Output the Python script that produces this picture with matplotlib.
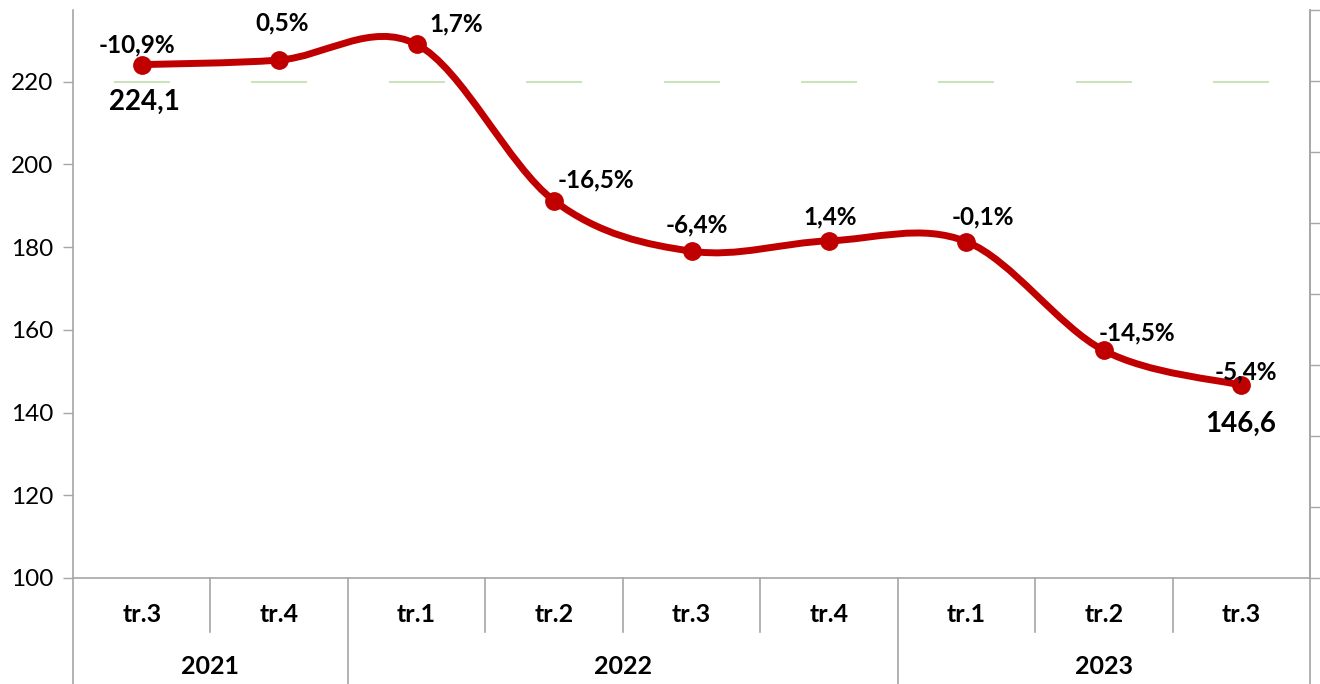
import numpy as np
import matplotlib.pyplot as plt
from matplotlib.path import Path
from matplotlib.patches import PathPatch
import matplotlib.transforms as mtransforms

plt.rcParams["font.family"] = ["Lato", "DejaVu Sans"]

quarters = ["tr.3", "tr.4", "tr.1", "tr.2", "tr.3", "tr.4", "tr.1", "tr.2", "tr.3"]
years = ["2021", "2022", "2023"]
year_counts = [2, 4, 3]
values = [224.1, 225.2, 229.0, 191.2, 179.0, 181.5, 181.3, 155.0, 146.6]
changes = ["-10,9%", "0,5%", "1,7%", "-16,5%", "-6,4%", "1,4%", "-0,1%", "-14,5%", "-5,4%"]
ref_level = [220, 220, 220, 220, 220, 220, 220, 220, 220]
first_label = "224,1"
last_label = "146,6"

# label offsets in pixels (dx, dy) relative to each point
offsets = [(-5, 20), (3, 37), (40, 20), (42, 21), (5, 26), (1, 24), (16, 25), (33, 18), (5, 13)]

RED = "#C00000"
GRAY = "#A6A6A6"

fig = plt.figure(figsize=(13.2, 6.84), dpi=100)
ax = fig.add_axes([73 / 1320, 1 - 578 / 684, 1237 / 1320, 568 / 684])

x = np.arange(len(values))
y = np.array(values)

# smoothed line like excel: cubic bezier segments, drawn by matplotlib
verts = [(x[0], y[0])]
codes = [Path.MOVETO]
n = len(x)
for i in range(n - 1):
    p0 = np.array([x[max(i - 1, 0)], y[max(i - 1, 0)]])
    p1 = np.array([x[i], y[i]])
    p2 = np.array([x[i + 1], y[i + 1]])
    p3 = np.array([x[min(i + 2, n - 1)], y[min(i + 2, n - 1)]])
    c1 = p1 + (p2 - p0) / 6
    c2 = p2 - (p3 - p1) / 6
    verts += [tuple(c1), tuple(c2), tuple(p2)]
    codes += [Path.CURVE4] * 3
ax.add_patch(PathPatch(Path(verts, codes), facecolor="none", edgecolor=RED,
                       lw=5, capstyle="round", joinstyle="round", zorder=3))
ax.plot(x, y, "o", color=RED, ms=12.5, zorder=4)

# light green reference dashes
ax.plot(x, ref_level, "_", color="#C5E0B4", ms=40, mew=1.3, zorder=2)

for i, (lab, (dx, dy)) in enumerate(zip(changes, offsets)):
    ax.annotate(lab, (x[i], y[i]), xytext=(dx * 0.72, dy * 0.72), textcoords="offset points",
                ha="center", va="center", fontsize=17.5, fontweight="bold", zorder=5)
ax.annotate(first_label, (x[0], y[0]), xytext=(3 * 0.72, -37 * 0.72), textcoords="offset points",
            ha="center", va="center", fontsize=20, fontweight="bold", zorder=5)
ax.annotate(last_label, (x[-1], y[-1]), xytext=(-1 * 0.72, -39 * 0.72), textcoords="offset points",
            ha="center", va="center", fontsize=20, fontweight="bold", zorder=5)

ax.set_xlim(-0.5, n - 0.5)
ax.set_ylim(100, 237.3)
ax.set_yticks(np.arange(100, 221, 20))
ax.tick_params(axis="y", direction="out", length=7, width=1, color=GRAY, labelsize=17.5, pad=7)
ax.set_xticks([])
ax.spines["top"].set_visible(False)
for s in ["left", "bottom", "right"]:
    ax.spines[s].set_color(GRAY)
    ax.spines[s].set_linewidth(1.2)

# secondary axis ticks on the right (no labels)
ax2 = ax.twinx()
ax2.set_ylim(0, 8)
ax2.set_yticks(np.arange(0, 9, 1))
ax2.set_yticklabels([])
ax2.tick_params(axis="y", direction="out", length=7, width=1, color=GRAY)
for s in ["top", "left", "bottom"]:
    ax2.spines[s].set_visible(False)
ax2.spines["right"].set_color(GRAY)
ax2.spines["right"].set_linewidth(1.2)

# multi-level category axis
trans = mtransforms.blended_transform_factory(ax.transData, ax.transAxes)
y_bottom = -106 / 568
y_qsep = -54 / 568
for i, q in enumerate(quarters):
    ax.text(i, -36 / 568, q, transform=trans, ha="center", va="center",
            fontsize=18, fontweight="bold")
bounds = np.cumsum([0] + year_counts) - 0.5
for k, yr in enumerate(years):
    ax.text((bounds[k] + bounds[k + 1]) / 2, -89 / 568, yr, transform=trans,
            ha="center", va="center", fontsize=18, fontweight="bold")
for b in bounds:
    ax.plot([b, b], [0, y_bottom], transform=trans, color=GRAY, lw=1.2, clip_on=False)
for i in range(1, n):
    xb = i - 0.5
    if xb in bounds:
        continue
    ax.plot([xb, xb], [0, y_qsep], transform=trans, color=GRAY, lw=1.2, clip_on=False)

fig.savefig("out.png", dpi=100)
